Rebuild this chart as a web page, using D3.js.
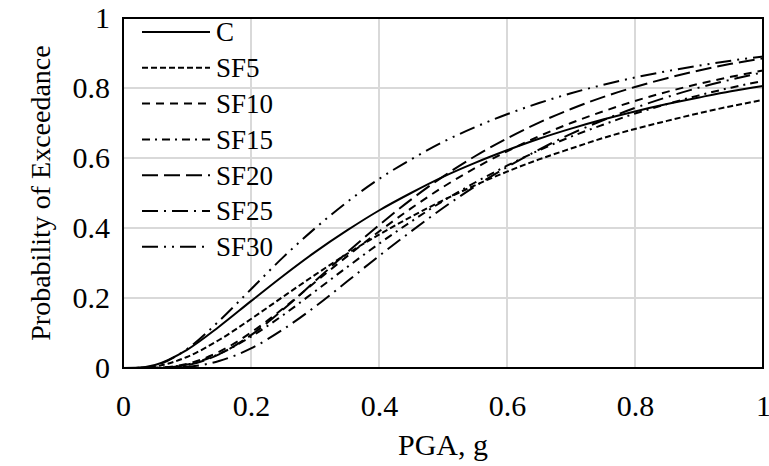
<!DOCTYPE html>
<html><head><meta charset="utf-8">
<script src="https://cdn.jsdelivr.net/npm/d3@7"></script>
<style>body{margin:0;background:#fff;} svg text{font-family:"Times New Roman","Liberation Serif",Tinos,serif !important;fill:#000;}</style>
</head><body><svg id="c" width="769" height="466"></svg>
<script>
const pga = [0, 0.02, 0.05, 0.1, 0.15, 0.2, 0.25, 0.3, 0.35, 0.4, 0.45, 0.5, 0.55, 0.6, 0.65, 0.7, 0.75, 0.8, 0.85, 0.9, 0.95, 1.0];
const seriesNames = ["C", "SF5", "SF10", "SF15", "SF20", "SF25", "SF30"];
const C    = [0, 0.0004, 0.0088, 0.052, 0.118, 0.191, 0.263, 0.331, 0.393, 0.450, 0.500, 0.546, 0.586, 0.622, 0.655, 0.684, 0.710, 0.733, 0.754, 0.773, 0.791, 0.806];
const SF5  = [0, 0.0001, 0.0042, 0.0315, 0.080, 0.140, 0.2035, 0.266, 0.326, 0.381, 0.432, 0.479, 0.522, 0.561, 0.596, 0.627, 0.657, 0.683, 0.706, 0.728, 0.748, 0.766];
const SF10 = [0, 0, 0.0006, 0.0117, 0.046, 0.1015, 0.170, 0.245, 0.319, 0.390, 0.456, 0.517, 0.571, 0.619, 0.662, 0.700, 0.733, 0.763, 0.789, 0.812, 0.832, 0.850];
const SF15 = [0, 0, 0.0005, 0.010, 0.040, 0.0895, 0.151, 0.219, 0.288, 0.355, 0.418, 0.477, 0.530, 0.578, 0.622, 0.661, 0.695, 0.727, 0.754, 0.779, 0.801, 0.820];
const SF20 = [0, 0, 0.0002, 0.008, 0.039, 0.094, 0.167, 0.248, 0.330, 0.408, 0.481, 0.547, 0.605, 0.656, 0.701, 0.740, 0.774, 0.803, 0.828, 0.850, 0.869, 0.885];
const SF25 = [0, 0, 0.0001, 0.0033, 0.020, 0.056, 0.110, 0.175, 0.247, 0.320, 0.390, 0.457, 0.519, 0.574, 0.624, 0.669, 0.708, 0.743, 0.774, 0.801, 0.824, 0.845];
const SF30 = [0, 0.0002, 0.0069, 0.054, 0.134, 0.225, 0.316, 0.399, 0.474, 0.540, 0.596, 0.646, 0.688, 0.725, 0.757, 0.785, 0.809, 0.830, 0.848, 0.864, 0.878, 0.890];
const tickValues = [0, 0.2, 0.4, 0.6, 0.8, 1];
const tickLabels = ["0", "0.2", "0.4", "0.6", "0.8", "1"];
const dashes = ["", "6,3", "8,6", "8,5,2,5", "16,6", "16,6,2,6", "16,6,2,6,2,6"];

const allValues = [C, SF5, SF10, SF15, SF20, SF25, SF30];
const svg = d3.select("#c");
const FONT = '"Times New Roman","Liberation Serif",Tinos,serif';
const m = {l:123, t:18, r:763, b:368};
const x = d3.scaleLinear().domain([0,1]).range([m.l, m.r]);
const y = d3.scaleLinear().domain([0,1]).range([m.b, m.t]);

// gridlines
svg.append("g").selectAll("line").data(tickValues.slice(1,-1)).join("line")
  .attr("x1", d=>x(d)).attr("x2", d=>x(d)).attr("y1", m.t).attr("y2", m.b)
  .attr("stroke", "#d9d9d9").attr("stroke-width", 2);
svg.append("g").selectAll("line").data(tickValues.slice(1,-1)).join("line")
  .attr("y1", d=>y(d)).attr("y2", d=>y(d)).attr("x1", m.l).attr("x2", m.r)
  .attr("stroke", "#d9d9d9").attr("stroke-width", 2);

// axes labels via d3 axes
const xAxis = d3.axisBottom(x).tickValues(tickValues).tickFormat((d,i)=>tickLabels[i]).tickSize(0).tickPadding(27);
const gx = svg.append("g").attr("transform", `translate(0,${m.b})`).call(xAxis).attr("font-family", FONT).attr("font-size", 30);
gx.select(".domain").remove();
const yAxis = d3.axisLeft(y).tickValues(tickValues).tickFormat((d,i)=>tickLabels[i]).tickSize(0).tickPadding(13);
const gy = svg.append("g").attr("transform", `translate(${m.l},0)`).call(yAxis).attr("font-family", FONT).attr("font-size", 30);
gy.select(".domain").remove();

// lines
const line = d3.line().x((d,i)=>x(pga[i])).y(d=>y(d)).curve(d3.curveMonotoneX);
svg.append("g").selectAll("path").data(allValues).join("path")
  .attr("d", d=>line(d)).attr("fill", "none").attr("stroke", "#000")
  .attr("stroke-width", 2).attr("stroke-dasharray", (d,i)=>dashes[i] || null);

// border
svg.append("rect").attr("x", m.l).attr("y", m.t).attr("width", m.r-m.l).attr("height", m.b-m.t)
  .attr("fill", "none").attr("stroke", "#000").attr("stroke-width", 2);

// legend
const lg = svg.append("g").attr("font-family", FONT);
seriesNames.forEach((n,i)=>{
  const yy = 32 + i*35.8;
  lg.append("line").attr("x1", 142).attr("x2", 210).attr("y1", yy).attr("y2", yy)
    .attr("stroke", "#000").attr("stroke-width", 2).attr("stroke-dasharray", dashes[i] || null);
  lg.append("text").attr("x", 216).attr("y", yy).attr("dy", "0.35em").attr("font-size", 27).text(n);
});

// titles
svg.append("text").attr("x", (m.l+m.r)/2).attr("y", 444).attr("dy","0.35em").attr("text-anchor","middle").attr("font-size", 30).attr("font-family", FONT).text("PGA, g");
svg.append("text").attr("transform", `translate(40,${(m.t+m.b)/2}) rotate(-90)`).attr("dy","0.35em").attr("text-anchor","middle").attr("font-size", 28).attr("font-family", FONT).text("Probability of Exceedance");
</script></body></html>
